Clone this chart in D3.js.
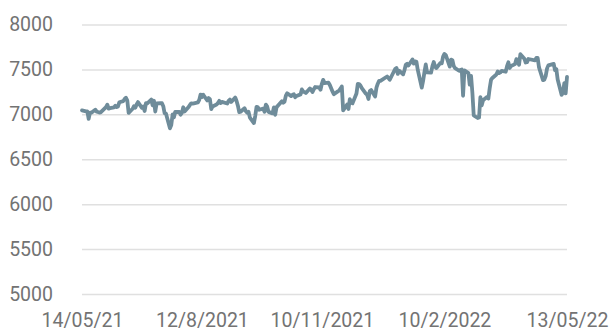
<!DOCTYPE html>
<html>
<head>
<meta charset="utf-8">
<script src="https://cdn.jsdelivr.net/npm/d3@7"></script>
<style>
  html, body { margin: 0; padding: 0; background: #fff; }
  svg text { font-family: Roboto, "Liberation Sans", sans-serif; }
</style>
</head>
<body>
<div id="chart"></div>
<script>
// trading days, grouped by month: [yyyy-mm, days...]
const tradingDays = [
  ["2021-05", 14,17,18,19,20,21,24,25,26,27,28],
  ["2021-06", 1,2,3,4,7,8,9,10,11,14,15,16,17,18,21,22,23,24,25,28,29,30],
  ["2021-07", 1,2,5,6,7,8,9,12,13,14,15,16,19,20,21,22,23,26,27,28,29,30],
  ["2021-08", 2,3,4,5,6,9,10,11,12,13,16,17,18,19,20,23,24,25,26,27,31],
  ["2021-09", 1,2,3,6,7,8,9,10,13,14,15,16,17,20,21,22,23,24,27,28,29,30],
  ["2021-10", 1,4,5,6,7,8,11,12,13,14,15,18,19,20,21,22,25,26,27,28,29],
  ["2021-11", 1,2,3,4,5,8,9,10,11,12,15,16,17,18,19,22,23,24,25,26,29,30],
  ["2021-12", 1,2,3,6,7,8,9,10,13,14,15,16,17,20,21,22,23,24,29,30,31],
  ["2022-01", 4,5,6,7,10,11,12,13,14,17,18,19,20,21,24,25,26,27,28,31],
  ["2022-02", 1,2,3,4,7,8,9,10,11,14,15,16,17,18,21,22,23,24,25,28],
  ["2022-03", 1,2,3,4,7,8,9,10,11,14,15,16,17,18,21,22,23,24,25,28,29,30,31],
  ["2022-04", 1,4,5,6,7,8,11,12,13,14,19,20,21,22,25,26,27,28,29],
  ["2022-05", 3,4,5,6,9,10,11,12,13]
];

// closing values, same order as tradingDays
const closes = [
  7044,7033,7034,6950,7020,7018,7052,7030,7026,7020,7023,
  7081,7108,7064,7069,7077,7095,7081,7088,7134,7147,7172,7185,7153,7017,7062,7090,7074,7110,7136,7072,7088,7037,
  7125,7123,7164,7101,7151,7031,7122,7125,7124,7091,7012,7008,6844,6881,6998,6968,7028,7026,6996,7016,7079,7032,
  7081,7105,7123,7120,7123,7132,7161,7220,7193,7218,7154,7181,7169,7059,7088,7109,7125,7150,7125,7138,7120,
  7150,7164,7138,7187,7149,7096,7024,7029,7068,7034,7017,7028,6963,6903,6981,7083,7078,7051,7063,7028,7108,7086,
  7027,7011,7077,6995,7078,7096,7146,7130,7141,7208,7234,7203,7217,7223,7190,7205,7222,7277,7253,7249,7238,
  7288,7274,7248,7280,7304,7300,7274,7340,7384,7348,7352,7327,7291,7255,7224,7255,7266,7286,7311,7044,7110,7059,
  7168,7129,7122,7232,7339,7337,7321,7292,7231,7219,7171,7260,7270,7198,7297,7341,7373,7372,7421,7403,7385,
  7505,7516,7450,7486,7445,7491,7552,7563,7543,7611,7564,7590,7585,7494,7297,7372,7470,7555,7466,7464,
  7536,7583,7529,7516,7573,7567,7643,7672,7661,7531,7609,7603,7537,7514,7485,7494,7499,7207,7489,7459,
  7330,7429,7239,6987,6959,6964,7191,7100,7156,7194,7176,7292,7385,7405,7443,7477,7460,7468,7483,7474,7537,7579,7516,
  7538,7559,7614,7588,7552,7670,7619,7577,7581,7616,7601,7629,7628,7522,7381,7386,7425,7509,7545,
  7562,7493,7503,7388,7216,7244,7348,7233,7418
];

const xTickDates = ["2021-05-14", "2021-08-12", "2021-11-10", "2022-02-10", "2022-05-13"];
const xTickLabels = ["14/05/21", "12/8/2021", "10/11/2021", "10/2/2022", "13/05/22"];
const yTicks = [5000, 5500, 6000, 6500, 7000, 7500, 8000];

const width = 611, height = 332;
const margin = { top: 24.5, right: 44, bottom: 38, left: 82 };

const parseDate = d3.timeParse("%Y-%m-%d");

const dates = tradingDays.flatMap(([ym, ...days]) =>
  days.map(d => parseDate(`${ym}-${String(d).padStart(2, "0")}`)));
const data = dates.map((d, i) => ({ date: d, value: closes[i] }));

const svg = d3.select("#chart")
  .append("svg")
  .attr("width", width)
  .attr("height", height);

const x = d3.scaleTime()
  .domain([parseDate(xTickDates[0]), parseDate(xTickDates[xTickDates.length - 1])])
  .range([margin.left, width - margin.right]);

const y = d3.scaleLinear()
  .domain([5000, 8000])
  .range([height - margin.bottom, margin.top]);

// y axis + gridlines
const yAxis = svg.append("g")
  .attr("transform", `translate(${margin.left},0)`)
  .call(d3.axisLeft(y)
    .tickValues(yTicks)
    .tickSize(-(width - margin.left - margin.right))
    .tickPadding(29)
    .tickFormat(d3.format("d")));
yAxis.select(".domain").remove();
yAxis.selectAll(".tick line")
  .attr("stroke", "#e0e0e0")
  .attr("stroke-width", 1.5);
yAxis.selectAll(".tick text")
  .attr("fill", "#737373")
  .style("font-size", "19.5px");

// x axis
const xAxis = svg.append("g")
  .attr("transform", `translate(0,${height - margin.bottom})`)
  .call(d3.axisBottom(x)
    .tickValues(xTickDates.map(parseDate))
    .tickSize(0)
    .tickPadding(19)
    .tickFormat((d, i) => xTickLabels[i]));
xAxis.select(".domain").remove();
xAxis.selectAll(".tick text")
  .attr("fill", "#737373")
  .style("font-size", "19.5px");

// line
const line = d3.line()
  .x(d => x(d.date))
  .y(d => y(d.value));

svg.append("path")
  .datum(data)
  .attr("fill", "none")
  .attr("stroke", "#6f8c9a")
  .attr("stroke-width", 3.8)
  .attr("stroke-linejoin", "round")
  .attr("stroke-linecap", "round")
  .attr("d", line);
</script>
</body>
</html>
